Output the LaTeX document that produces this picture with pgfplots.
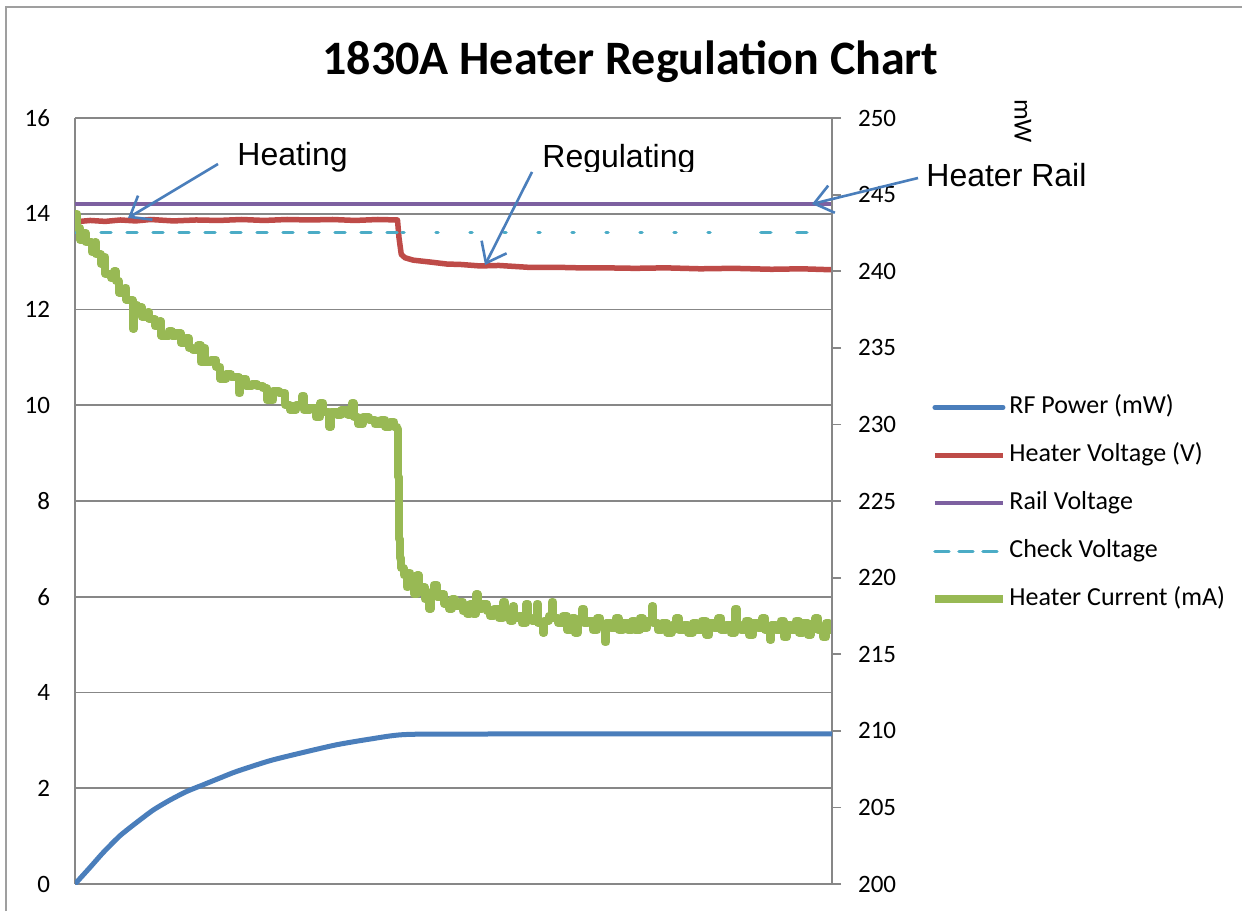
\documentclass[border=0pt]{standalone}
\usepackage{fontspec}
\setmainfont{Carlito}
\newfontfamily\arialfont{Liberation Sans}
\usepackage{pgfplots}
\pgfplotsset{compat=1.18}
\usetikzlibrary{arrows.meta}
\definecolor{rfblue}{HTML}{4A7EBB}
\definecolor{hvred}{HTML}{BE4B48}
\definecolor{railpurple}{HTML}{7D60A0}
\definecolor{checkcyan}{HTML}{4BACC6}
\definecolor{curgreen}{HTML}{98B954}
\definecolor{axgray}{HTML}{878787}

\begin{document}
\begin{tikzpicture}
\useasboundingbox (0,0) rectangle (621pt,455.5pt);
\draw[axgray!80, line width=1pt] (3pt,0pt) -- (3pt,452pt) -- (621pt,452pt);

\begin{axis}[
  at={(37.5pt,13.5pt)}, anchor=south west, scale only axis,
  width=378.5pt, height=383pt,
  xmin=0, xmax=1000, ymin=0, ymax=16,
  axis x line*=bottom, axis y line*=left,
  xtick=\empty, ytick={0,2,...,16},
  ymajorgrids, grid style={axgray, line width=0.9pt},
  axis line style={axgray, line width=0.9pt},
  major tick length=0pt, tick style={draw=none},
  yticklabel style={font=\fontsize{12.5}{14}\selectfont, xshift=-9pt},
  /pgf/number format/assume math mode=true,
  legend style={at={(1.1302,0.6435)}, anchor=north west, draw=none, fill=none,
    font=\fontsize{13}{15}\selectfont, row sep=8pt, inner sep=0pt,
    nodes={inner xsep=1.25pt, inner ysep=2pt, text height=9pt, text depth=3pt}},
  legend cell align=left,
  legend image code/.code={\draw[#1] (0pt,0pt) -- (34pt,0pt);},
]
\addlegendimage{rfblue, line width=2.5pt, line cap=round}
\addlegendentry{RF Power (mW)}

% Heater Voltage
\addplot[hvred, line width=2.75pt, line join=round] coordinates {
(0,13.83) (20,13.86) (40,13.84) (60,13.87) (80,13.85) (100,13.88) (130,13.85)
(160,13.87) (190,13.86) (220,13.88) (250,13.86) (280,13.88) (310,13.87) (340,13.88)
(370,13.86) (400,13.88) (426,13.87) (428,13.5) (431,13.15) (436,13.08) (447,13.03)
(470,12.99) (491,12.95) (510,12.94) (535,12.91) (560,12.92) (600,12.88) (640,12.88)
(667,12.87) (700,12.87) (740,12.86) (780,12.87) (826,12.85) (870,12.86) (920,12.84)
(960,12.85) (1000,12.83)
};
\addlegendentry{Heater Voltage (V)}

% Rail Voltage
\addplot[railpurple, line width=2pt] coordinates {(0,14.2) (1000,14.2)};
\addlegendentry{Rail Voltage}

% Check Voltage
\addlegendimage{checkcyan, line width=1.75pt, line cap=round, dash pattern=on 7pt off 5pt}
\addlegendentry{Check Voltage}
\addplot[checkcyan, line width=1.75pt, line cap=round, dash pattern=on 5pt off 8pt, forget plot]
  coordinates {(0,13.61) (427,13.61)};
\addplot[checkcyan, line width=1.75pt, line cap=round, dash pattern=on 1pt off 16pt, forget plot]
  coordinates {(432,13.61) (880,13.61)};
\addplot[checkcyan, line width=1.75pt, line cap=round, dash pattern=on 5pt off 13pt, forget plot]
  coordinates {(906,13.61) (974,13.61)};

% Heater Current
\addplot[curgreen, line width=4pt, const plot, line join=round] coordinates {
(0,14.0) (3,13.7) (7,13.45) (12,13.6) (14,13.4) (22,13.2) (26,13.4) (28,13.15)
(34,12.95) (38,13.1) (40,12.75) (48,12.65) (52,12.8) (54,12.6) (58,12.35) (66,12.45)
(68,12.2) (76,11.6) (78,12.1) (82,12.05) (88,11.85) (96,11.95) (98,11.8) (106,11.65)
(112,11.75) (114,11.45) (124,11.55) (128,11.45) (134,11.5) (140,11.3) (146,11.4)
(150,11.2) (156,11.15) (162,11.25) (166,10.9) (170,11.2) (172,10.9) (180,10.95)
(186,10.8) (192,10.55) (200,10.65) (206,10.6) (212,10.6) (216,10.25) (218,10.55)
(226,10.4) (234,10.45) (240,10.4) (248,10.35) (254,10.1) (262,10.3) (270,10.25)
(278,10.0) (284,9.9) (292,10.0) (300,10.2) (302,9.9) (310,9.95) (318,9.75) (324,10.05)
(328,9.85) (336,9.55) (338,9.85) (346,9.8) (352,9.9) (360,9.8) (366,10.05) (368,9.75)
(374,9.6) (380,9.75) (388,9.7) (396,9.6) (404,9.7) (410,9.55) (416,9.65) (422,9.55)
(426,9.5) (427,8.5) (428,7.2) (429,6.8) (431,6.6) (434,6.45) (438,6.2) (440,6.5)
(443,6.3) (448,6.05) (452,6.45) (454,6.1) (458,6.2) (462,5.95) (466,6.0) (468,5.75)
(470,6.1) (474,6.25) (478,6.0) (484,6.05) (488,5.85) (494,5.75) (498,5.95) (502,5.8)
(508,5.9) (512,5.7) (518,5.65) (522,5.85) (526,5.65) (530,6.05) (532,5.75) (538,5.85)
(544,5.7) (548,5.6) (554,5.75) (560,5.55) (566,5.9) (568,5.6) (574,5.5) (578,5.8)
(580,5.55) (586,5.6) (590,5.45) (596,5.85) (598,5.55) (604,5.5) (610,5.85) (612,5.45)
(618,5.25) (620,5.5) (626,5.6) (630,5.9) (632,5.55) (638,5.45) (644,5.6) (650,5.3)
(656,5.55) (660,5.25) (664,5.5) (670,5.75) (672,5.45) (678,5.5) (684,5.3) (690,5.55)
(694,5.4) (700,5.05) (702,5.45) (708,5.35) (714,5.55) (718,5.3) (724,5.45) (730,5.3)
(736,5.5) (740,5.3) (746,5.55) (750,5.35) (756,5.5) (762,5.8) (764,5.45) (770,5.3)
(776,5.45) (782,5.25) (788,5.4) (794,5.55) (798,5.3) (804,5.4) (810,5.25) (816,5.45)
(822,5.3) (828,5.5) (834,5.2) (838,5.45) (844,5.35) (850,5.55) (854,5.3) (860,5.4)
(866,5.25) (872,5.75) (874,5.4) (880,5.3) (886,5.5) (890,5.2) (896,5.45) (902,5.35)
(908,5.55) (912,5.3) (918,5.1) (920,5.4) (926,5.3) (932,5.5) (936,5.15) (940,5.4)
(946,5.3) (952,5.5) (956,5.25) (962,5.45) (968,5.2) (972,5.4) (978,5.55) (982,5.3)
(988,5.15) (992,5.45) (996,5.3) (1000,5.35)
};
\addlegendentry{Heater Current (mA)}
\end{axis}

\begin{axis}[
  at={(37.5pt,13.5pt)}, anchor=south west, scale only axis,
  width=378.5pt, height=383pt,
  xmin=0, xmax=1000, ymin=200, ymax=250,
  axis y line*=right, axis x line=none,
  ytick={200,205,...,250},
  tick align=outside, major tick length=4.5pt,
  tick style={axgray, line width=0.9pt},
  axis line style={axgray, line width=0.9pt},
  yticklabel style={font=\fontsize{12.5}{14}\selectfont, xshift=5pt},
  /pgf/number format/assume math mode=true,
]
% RF Power
\addplot[rfblue, line width=2.5pt, line join=round, smooth, tension=0.4] coordinates {
(0,200.0) (19.8,201.08) (37.4,202.06) (59.4,203.15) (81.5,204.02) (103.4,204.83)
(125.5,205.48) (147.5,206.04) (169.5,206.48) (191.5,206.92) (213.6,207.35)
(257.6,208.05) (301.6,208.59) (345.7,209.09) (389.7,209.46) (433.7,209.75)
(521.8,209.79) (1000,209.8)
};
\end{axis}

\begin{scope}[shift={(0pt,455.5pt)}, x=0.5pt, y=-0.5pt]
\node[anchor=base, inner sep=0pt, font=\fontsize{24}{28}\selectfont\bfseries] at (630.5,75) {1830A Heater Regulation Chart};
\node[rotate=-90, inner sep=0pt, font=\fontsize{13}{15}\selectfont] at (1023,121) {mW};
\node[anchor=base west, inner sep=0pt, font=\arialfont\fontsize{16}{18}\selectfont] at (237,166) {Heating};
\begin{scope}
\clip (530,120) rectangle (710,172);
\node[anchor=base west, inner sep=0pt, font=\arialfont\fontsize{16}{18}\selectfont] at (542,168) {Regulating};
\end{scope}
\node[anchor=base west, inner sep=0pt, font=\arialfont\fontsize{16}{18}\selectfont] at (926,187) {Heater Rail};
\draw[rfblue, line width=1.3pt, -{Straight Barb[length=9pt,width=14pt]}] (218,164) -- (128,218);
\draw[rfblue, line width=1.3pt, -{Straight Barb[length=9pt,width=14pt]}] (532,172) -- (485,265);
\draw[rfblue, line width=1.3pt, -{Straight Barb[length=9pt,width=14pt]}] (918,178) -- (812,204);
\end{scope}
\end{tikzpicture}
\end{document}
